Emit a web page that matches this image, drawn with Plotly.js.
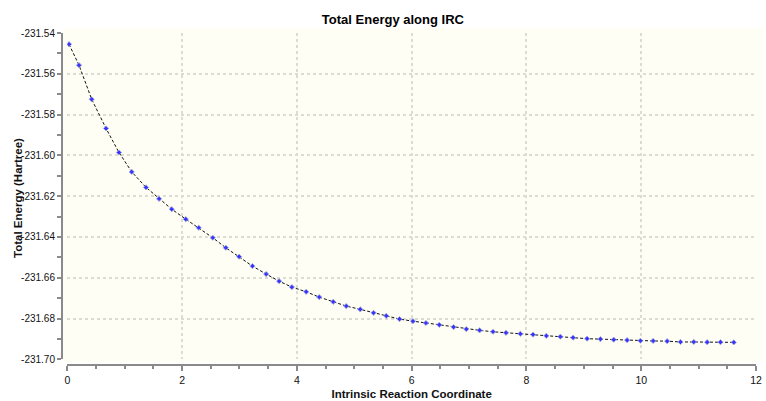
<!DOCTYPE html>
<html>
<head>
<meta charset="utf-8">
<script src="https://cdn.plot.ly/plotly-3.0.1.min.js"></script>
<style>html,body{margin:0;padding:0;background:#fff;}#chart{width:766px;height:401px;}</style>
</head>
<body>
<div id="chart"></div>
<script>
const ircCoord = [0.030,0.204,0.425,0.675,0.901,1.123,1.372,1.599,1.820,2.065,2.291,2.535,2.762,2.994,3.226,3.465,3.691,3.913,4.162,4.389,4.633,4.860,5.104,5.336,5.557,5.789,6.023,6.249,6.481,6.731,6.952,7.184,7.418,7.644,7.894,8.115,8.347,8.591,8.813,9.057,9.289,9.521,9.754,9.986,10.208,10.452,10.684,10.916,11.149,11.381,11.613];
const totalEnergy = [-231.5455,-231.5558,-231.5725,-231.5868,-231.5986,-231.6081,-231.6157,-231.6213,-231.6264,-231.6313,-231.6355,-231.6404,-231.6453,-231.6497,-231.6543,-231.6582,-231.6617,-231.6646,-231.6669,-231.6695,-231.6718,-231.6739,-231.6755,-231.6772,-231.6787,-231.6803,-231.6813,-231.6822,-231.6831,-231.6842,-231.6852,-231.6858,-231.6865,-231.6870,-231.6875,-231.6879,-231.6885,-231.6889,-231.6894,-231.6899,-231.6901,-231.6904,-231.6906,-231.6909,-231.6910,-231.6911,-231.6915,-231.6915,-231.6916,-231.6916,-231.6917];
const xTickVals = [0,2,4,6,8,10,12];
const yTickVals = [-231.70,-231.68,-231.66,-231.64,-231.62,-231.60,-231.58,-231.56,-231.54];
const yTickText = yTickVals.map(v => v.toFixed(2));

const W = 766, H = 401;
const mL = 60, mR = 10, mT = 33, mB = 34;
const pw = W - mL - mR, ph = H - mT - mB;
const px = p => (p - mL) / pw;
const py = p => (H - mB - p) / ph;

const font = 'Liberation Sans, Arial, Helvetica, sans-serif';
const cream = '#fefef4';
const grid = '#dcdcd4';

const trace = {
  x: ircCoord, y: totalEnergy, type: 'scatter', mode: 'lines+markers',
  line: {color: '#111', width: 1, dash: '3px,2px'},
  marker: {symbol: 'diamond', size: 4, color: '#3535ff', line: {color: 'rgba(170,170,210,0.8)', width: 1}},
  hoverinfo: 'x+y'
};

const layout = {
  width: W, height: H,
  margin: {l: mL, r: mR, t: mT, b: mB, pad: 0},
  paper_bgcolor: '#ffffff', plot_bgcolor: cream,
  showlegend: false,
  font: {family: font, size: 10, color: '#111'},
  title: {text: '<b>Total Energy along IRC</b>', x: px(417), xanchor: 'center', y: 1 - 19/H, yanchor: 'middle', font: {family: font, size: 13, color: '#000'}},
  xaxis: {
    range: [0, 12], domain: [px(67.3), 1], anchor: 'free', position: py(365),
    tickvals: xTickVals, ticktext: xTickVals.map(String),
    showgrid: true, gridcolor: grid, gridwidth: 2, griddash: '3px,3px',
    zeroline: false, showline: true, linecolor: '#8a8a8a', linewidth: 2,
    ticks: 'outside', ticklen: 5, tickwidth: 2, tickcolor: '#8a8a8a',
    minor: {dtick: 0.5, ticks: 'outside', ticklen: 3, tickwidth: 2, tickcolor: '#8a8a8a', showgrid: false},
    tickfont: {family: font, size: 10.5, color: '#111'},
    title: {text: '<b>Intrinsic Reaction Coordinate</b>', font: {family: font, size: 11.5, color: '#111'}, standoff: 4}
  },
  yaxis: {
    range: [-231.70, -231.54], domain: [py(359.3), 1], anchor: 'free', position: px(62),
    tickvals: yTickVals, ticktext: yTickText,
    showgrid: true, gridcolor: grid, gridwidth: 2, griddash: '3px,3px',
    zeroline: false, showline: true, linecolor: '#8a8a8a', linewidth: 2,
    ticks: 'outside', ticklen: 4, tickwidth: 2, tickcolor: '#8a8a8a',
    minor: {dtick: 0.01, ticks: 'outside', ticklen: 4, tickwidth: 2, tickcolor: '#8a8a8a', showgrid: false},
    tickfont: {family: font, size: 10, color: '#111'}
  },
  annotations: [{
    text: '<b>Total Energy (Hartree)</b>', textangle: -90, showarrow: false,
    xref: 'paper', yref: 'paper', x: (18 - mL) / pw, y: py(198), xanchor: 'center', yanchor: 'middle',
    font: {family: font, size: 11.5, color: '#111'}
  }],
  shapes: [{
    type: 'rect', xref: 'paper', yref: 'paper', layer: 'below',
    x0: px(63.5), x1: px(763), y0: py(362), y1: py(28),
    fillcolor: cream, line: {width: 0}
  }]
};

Plotly.newPlot('chart', [trace], layout, {displayModeBar: false, staticPlot: true});
</script>
</body>
</html>
